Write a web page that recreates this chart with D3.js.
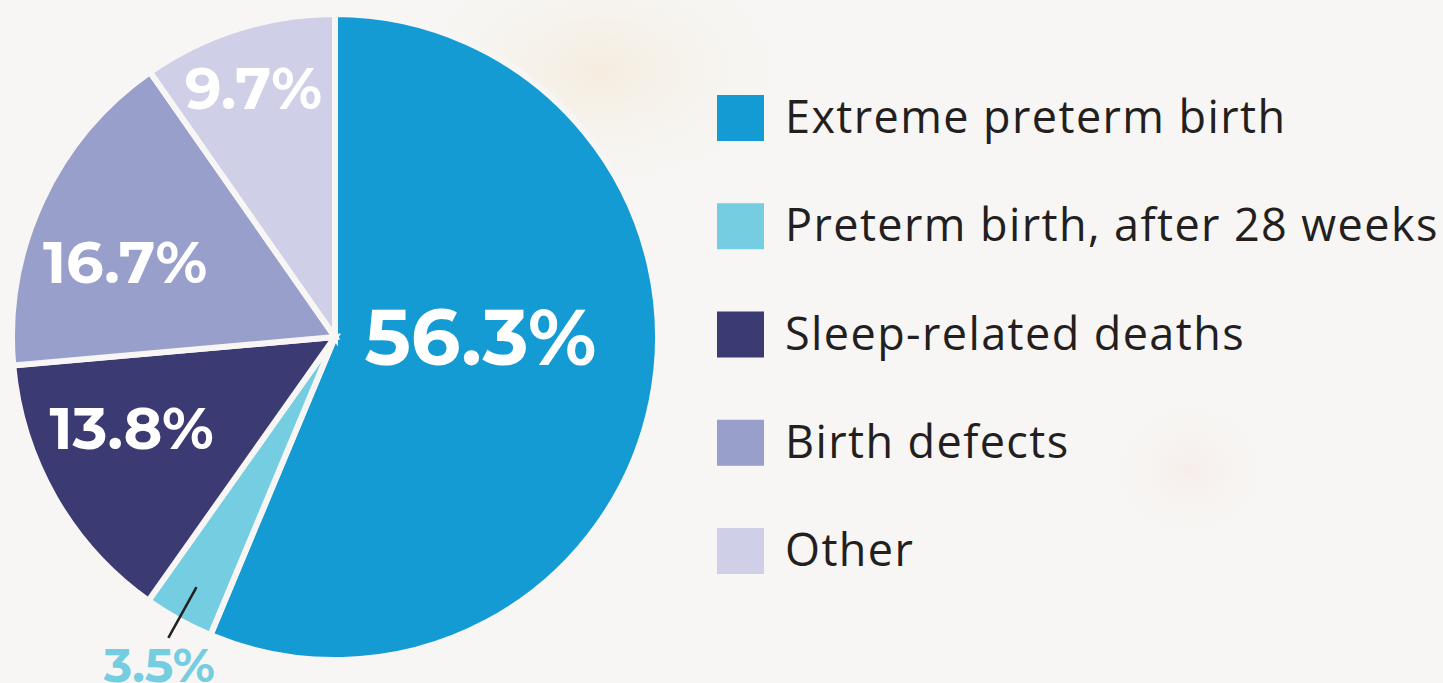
<!DOCTYPE html>
<html>
<head>
<meta charset="utf-8">
<script src="https://cdn.jsdelivr.net/npm/d3@7"></script>
<style>
  html, body { margin: 0; padding: 0; background: #f7f6f4; overflow: hidden; }
  svg { display: block; }
</style>
</head>
<body>
<svg id="chart" width="1443" height="683"></svg>
<script>
const categories = ["Extreme preterm birth", "Preterm birth, after 28 weeks", "Sleep-related deaths", "Birth defects", "Other"];
const values = [56.3, 3.5, 13.8, 16.7, 9.7];
const labels = ["56.3%", "3.5%", "13.8%", "16.7%", "9.7%"];
const colors = ["#149bd4", "#74cde0", "#3c3a72", "#989fcb", "#cfcfe7"];

const W = 1443, H = 683;
const svg = d3.select("#chart");

// faint background glows
const defs = svg.append("defs");
const g1 = defs.append("radialGradient").attr("id", "glow1");
g1.append("stop").attr("offset", "0%").attr("stop-color", "#f4e8d6").attr("stop-opacity", 0.7);
g1.append("stop").attr("offset", "100%").attr("stop-color", "#f7f6f4").attr("stop-opacity", 0);
const g2 = defs.append("radialGradient").attr("id", "glow2");
g2.append("stop").attr("offset", "0%").attr("stop-color", "#f7e8e4").attr("stop-opacity", 0.6);
g2.append("stop").attr("offset", "100%").attr("stop-color", "#f7f6f4").attr("stop-opacity", 0);
svg.append("rect").attr("width", W).attr("height", H).attr("fill", "#f7f6f4");
svg.append("ellipse").attr("cx", 600).attr("cy", 70).attr("rx", 220).attr("ry", 140).attr("fill", "url(#glow1)");
svg.append("ellipse").attr("cx", 1190).attr("cy", 470).attr("rx", 90).attr("ry", 80).attr("fill", "url(#glow2)");

const cx = 335, cy = 337, R = 323;
const pie = d3.pie().sort(null).value(d => d)(values);
const arc = d3.arc().innerRadius(0).outerRadius(R);

const g = svg.append("g").attr("transform", `translate(${cx},${cy})`);
g.selectAll("path.slice").data(pie).join("path")
  .attr("class", "slice")
  .attr("d", arc)
  .attr("fill", (d, i) => colors[i])
  .attr("stroke", "#f7f6f4")
  .attr("stroke-width", 6)
  .attr("stroke-linejoin", "miter");

// label placement
const labelFont = "'Montserrat', 'Inter', 'Open Sans', sans-serif";
function mid(d) { return (d.startAngle + d.endAngle) / 2; }
const inside = [
  { i: 0, r: 0.45, size: 78, flat: true, dx: 0, dy: 0 },
  { i: 2, r: 0.68, size: 59, dx: -13, dy: -18 },
  { i: 3, r: 0.69, size: 59, dx: -8, dy: 19 },
  { i: 4, r: 0.80, size: 58, dx: -4, dy: -2 }
];
inside.forEach(o => {
  const d = pie[o.i];
  const a = mid(d);
  const x = (o.flat ? R * o.r : Math.sin(a) * R * o.r) + o.dx;
  const y = (o.flat ? 0 : -Math.cos(a) * R * o.r) + o.dy;
  g.append("text")
    .attr("x", x).attr("y", y)
    .attr("text-anchor", "middle")
    .attr("dominant-baseline", "central")
    .attr("font-family", labelFont)
    .attr("font-weight", 700)
    .attr("font-size", o.size)
    .attr("fill", "#ffffff")
    .text(labels[o.i]);
});

// small slice: leader line + outside label
{
  const d = pie[1];
  const a = mid(d);
  const p1 = [Math.sin(a) * R * 0.885, -Math.cos(a) * R * 0.885];
  const p2 = [Math.sin(a) * R * 1.065, -Math.cos(a) * R * 1.065];
  g.append("line")
    .attr("x1", p1[0]).attr("y1", p1[1])
    .attr("x2", p2[0]).attr("y2", p2[1])
    .attr("stroke", "#231f20").attr("stroke-width", 2.5);
  g.append("text")
    .attr("x", p2[0] - 9).attr("y", p2[1] + 44)
    .attr("text-anchor", "middle")
    .attr("font-family", labelFont)
    .attr("font-weight", 700)
    .attr("font-size", 48)
    .attr("fill", colors[1])
    .text(labels[1]);
}

// legend
const legendY = d3.scalePoint().domain(categories).range([118, 551]);
const leg = svg.append("g");
const items = leg.selectAll("g").data(categories).join("g")
  .attr("transform", d => `translate(717,${legendY(d)})`);
items.append("rect")
  .attr("x", 0).attr("y", -23).attr("width", 47).attr("height", 46)
  .attr("fill", (d, i) => colors[i]);
items.append("text")
  .attr("x", 68).attr("y", 15)
  .attr("font-family", "'Open Sans', 'Lato', sans-serif")
  .attr("font-weight", 400)
  .attr("font-size", 45)
  .attr("letter-spacing", 1.4)
  .attr("fill", "#231f20")
  .text(d => d);
</script>
</body>
</html>
